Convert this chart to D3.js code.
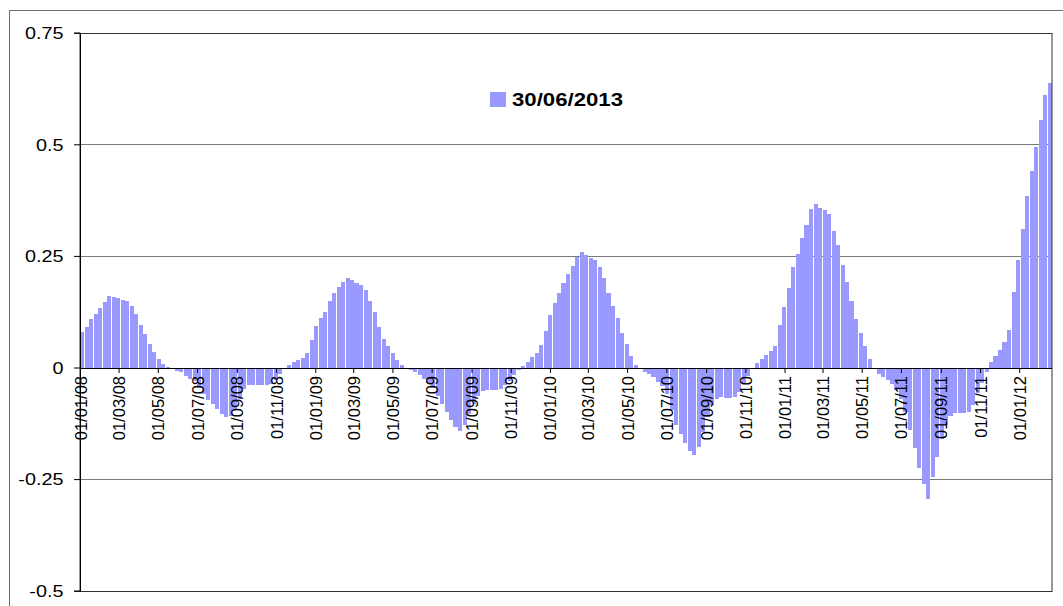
<!DOCTYPE html>
<html>
<head>
<meta charset="utf-8">
<script src="https://cdn.jsdelivr.net/npm/d3@7"></script>
<style>
  body { margin: 0; background: #fff; }
  svg { display: block; font-family: "Liberation Sans", Arial, sans-serif; }
</style>
</head>
<body>
<div id="main"></div>
<script>
// Weekly values (first week starts 01/01/08)
const values2008 = [
  0.080, 0.090, 0.108, 0.120, 0.134, 0.146, 0.160, 0.159, 0.155, 0.151,
  0.148, 0.138, 0.120, 0.095, 0.075, 0.052, 0.035, 0.020, 0.008, 0.002,
  -0.003, -0.007, -0.011, -0.018, -0.026, -0.031, -0.045, -0.060, -0.072, -0.082,
  -0.093, -0.104, -0.112, -0.108, -0.092, -0.070, -0.048, -0.040, -0.040, -0.039,
  -0.040, -0.039, -0.036, -0.028, -0.015, -0.004, 0.005, 0.012, 0.017, 0.022,
  0.032, 0.062, 0.092, 0.112
];
const values2009 = [
  0.125, 0.148, 0.168, 0.180, 0.192, 0.201, 0.195, 0.189, 0.185, 0.174,
  0.150, 0.124, 0.090, 0.063, 0.048, 0.032, 0.017, 0.006, -0.003, -0.006,
  -0.011, -0.016, -0.025, -0.034, -0.047, -0.064, -0.082, -0.100, -0.118, -0.133,
  -0.143, -0.128, -0.105, -0.082, -0.064, -0.052, -0.051, -0.050, -0.051, -0.048,
  -0.040, -0.030, -0.016, -0.005, 0.004, 0.012, 0.024, 0.032, 0.050, 0.082,
  0.118, 0.145, 0.168, 0.190
];
const values2010 = [
  0.210, 0.228, 0.248, 0.258, 0.251, 0.246, 0.240, 0.225, 0.200, 0.168,
  0.138, 0.110, 0.078, 0.052, 0.025, 0.006, -0.004, -0.010, -0.014, -0.021,
  -0.032, -0.042, -0.060, -0.095, -0.128, -0.150, -0.170, -0.188, -0.196, -0.178,
  -0.145, -0.110, -0.083, -0.070, -0.067, -0.068, -0.068, -0.065, -0.055, -0.038,
  -0.018, -0.002, 0.010, 0.020, 0.028, 0.038, 0.048, 0.095, 0.135, 0.178,
  0.225, 0.255, 0.290
];
const values2011 = [
  0.320, 0.355, 0.366, 0.358, 0.352, 0.343, 0.305, 0.275, 0.230, 0.192,
  0.148, 0.108, 0.078, 0.048, 0.018, -0.004, -0.014, -0.021, -0.028, -0.037,
  -0.050, -0.070, -0.100, -0.140, -0.180, -0.225, -0.262, -0.295, -0.245, -0.200,
  -0.160, -0.128, -0.108, -0.103, -0.103, -0.103, -0.100, -0.085, -0.058, -0.035,
  -0.010, 0.012, 0.026, 0.040, 0.058, 0.085, 0.170, 0.240, 0.310, 0.385,
  0.440, 0.495, 0.555, 0.610, 0.638
];
const yTicks = [0.75, 0.5, 0.25, 0, -0.25, -0.5];
const yTickLabels = ['0.75', '0.5', '0.25', '0', '-0.25', '-0.5'];
const seriesName = '30/06/2013';

const values = values2008.concat(values2009, values2010, values2011);
const startDate = new Date(2008, 0, 1);
const data = values.map((v, i) => ({ date: d3.timeDay.offset(startDate, i * 7), value: v }));
const endDate = d3.timeDay.offset(startDate, values.length * 7);

// Dimensions
const w = 1063;
const h = 606;
const padL = 80, padR = 1052, padT = 32.7, padB = 590.7;
const barColor = '#9999ff';

const svg = d3.select('#main')
  .append('svg')
  .attr('width', w)
  .attr('height', h);

// chart area border
svg.append('rect')
  .attr('x', 9.5).attr('y', 10.5)
  .attr('width', 1100).attr('height', 700)
  .attr('fill', '#fff')
  .attr('stroke', '#6e6e6e');

// Scales
const xScale = d3.scaleTime().domain([startDate, endDate]).range([padL, padR]);
const yScale = d3.scaleLinear().domain([-0.5, 0.75]).range([padB, padT]);

// Gridlines
svg.append('g')
  .selectAll('line')
  .data(yTicks.filter((d) => d !== 0.75 && d !== -0.5 && d !== 0))
  .enter()
  .append('line')
  .attr('x1', padL).attr('x2', padR)
  .attr('y1', (d) => Math.round(yScale(d)) + 0.5)
  .attr('y2', (d) => Math.round(yScale(d)) + 0.5)
  .attr('stroke', '#7a7a7a');

// Bars snapped to whole pixels; a thin white line shows only where the week edge
// falls badly on the pixel grid (as in the original)
const zero = Math.round(yScale(0));
const x0 = (d) => Math.round(xScale(d.date));
const x1 = (d) => Math.round(xScale(d3.timeDay.offset(d.date, 7)) - 0.15);
svg.append('g')
  .selectAll('rect')
  .data(data)
  .enter()
  .append('rect')
  .attr('x', x0)
  .attr('width', (d) => Math.max(1, x1(d) - x0(d)))
  .attr('y', (d) => Math.min(Math.round(yScale(d.value)), zero))
  .attr('height', (d) => Math.abs(Math.round(yScale(d.value)) - zero))
  .attr('fill', barColor);

// Plot border
svg.append('rect')
  .attr('x', padL).attr('y', Math.round(padT) + 0.5)
  .attr('width', padR - padL)
  .attr('height', Math.round(padB) - Math.round(padT))
  .attr('fill', 'none')
  .attr('stroke', '#333');

// Y axis
const yAxis = d3.axisLeft(yScale)
  .tickValues(yTicks)
  .tickSize(6)
  .tickPadding(4)
  .tickFormat((d, i) => yTickLabels[i]);

const gy = svg.append('g')
  .attr('transform', `translate(${padL}, 0)`)
  .call(yAxis);
gy.select('.domain').attr('stroke', '#000');
gy.selectAll('.tick line').attr('stroke', '#000');
gy.selectAll('.tick text')
  .attr('font-size', 16)
  .attr('fill', '#000')
  .attr('text-anchor', 'end')
  .attr('dy', '0.36em')
  .attr('x', 0)
  .attr('transform', 'translate(-16.5,0) scale(1.24,1)');

// X axis at zero
const xTicks = d3.timeMonth.every(2).range(startDate, new Date(2012, 0, 2));
const xAxis = d3.axisBottom(xScale)
  .tickValues(xTicks)
  .tickSize(5)
  .tickSizeOuter(0)
  .tickFormat(d3.timeFormat('%d/%m/%y'));

const gx = svg.append('g')
  .attr('transform', `translate(0, ${zero})`)
  .call(xAxis);
gx.select('.domain').attr('stroke', '#000').attr('d', `M${padL},0.5H${padR}`);
gx.selectAll('.tick line').attr('stroke', '#000');
gx.selectAll('.tick text')
  .attr('font-size', 16.5)
  .attr('fill', '#000')
  .attr('text-anchor', 'end')
  .attr('y', 0)
  .attr('dy', 0)
  .attr('transform', 'translate(6, 8) rotate(-90)');

// Legend
const legend = svg.append('g');
legend.append('rect')
  .attr('x', 490).attr('y', 92)
  .attr('width', 16).attr('height', 15)
  .attr('fill', barColor);
legend.append('text')
  .attr('transform', 'translate(512, 106) scale(1.2,1)')
  .attr('font-size', 18.5)
  .attr('font-weight', 'bold')
  .attr('fill', '#000')
  .text(seriesName);
</script>
</body>
</html>
